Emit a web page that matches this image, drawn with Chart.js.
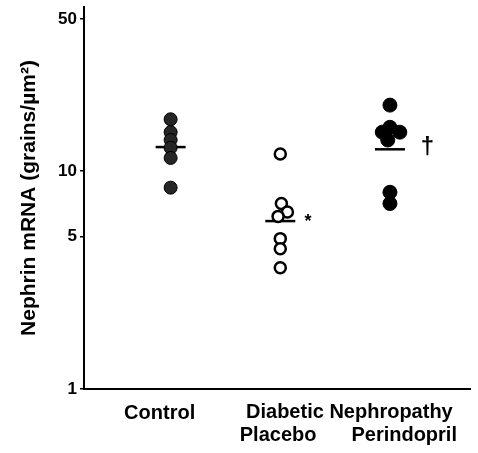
<!DOCTYPE html>
<html>
<head>
<meta charset="utf-8">
<script src="https://cdn.jsdelivr.net/npm/chart.js@4"></script>
<style>
html,body{margin:0;padding:0;background:#fff;}
#wrap{width:478px;height:453px;position:relative;}
</style>
</head>
<body>
<div id="wrap"><canvas id="c" width="478" height="453"></canvas></div>
<script>
// ---- data ----
const categories = ['Control', 'Placebo', 'Perindopril'];
const groupLabel = 'Diabetic Nephropathy';
const yTickValues = [1, 5, 10, 50];
const controlValues = [17.3, 15.1, 13.9, 12.8, 11.5, 8.4];
const controlJitter = [0, 0, 0, 0, 0, 0];
const placeboValues = [12.0, 7.1, 6.5, 6.2, 4.9, 4.4, 3.6];
const placeboJitter = [0, 0.01, 0.065, -0.02, 0, 0, 0];
const perindoprilValues = [20.1, 15.9, 15.1, 15.1, 13.9, 8.0, 7.1];
const perindoprilJitter = [0, 0, -0.07, 0.09, -0.02, 0, 0];
const meanValues = [12.9, 5.9, 12.6];
const significance = ['', '*', '\u2020'];

// label placement (style, not data)
const xLabelShift = [-0.1, -0.02, 0.13];
const groupLabelAt = 2.63;

const FONT = '"Liberation Sans", Arial, sans-serif';

function pts(catIndex, values, jitter) {
  return values.map((v, i) => ({ x: catIndex + 1 + jitter[i], y: v }));
}

const meanPts = meanValues.map((v, i) => ({ x: i + 1, y: v }));

const annotations = {
  id: 'annotations',
  afterDatasetsDraw(chart) {
    const ctx = chart.ctx;
    const xs = chart.scales.x, ys = chart.scales.y;
    ctx.save();
    ctx.fillStyle = '#000';
    significance.forEach((s, i) => {
      if (!s) return;
      const big = s === '\u2020';
      ctx.font = 'bold ' + (big ? 24 : 18) + 'px ' + FONT;
      ctx.textAlign = 'left';
      ctx.textBaseline = 'middle';
      const px = xs.getPixelForValue(i + 1 + (big ? 0.28 : 0.22));
      const py = ys.getPixelForValue(meanValues[i]) + (big ? -2 : 1);
      ctx.fillText(s, px, py);
    });
    ctx.font = 'bold 20px ' + FONT;
    ctx.textAlign = 'center';
    ctx.textBaseline = 'middle';
    ctx.fillText(groupLabel, xs.getPixelForValue(groupLabelAt), xs.top + 23);
    ctx.restore();
  }
};

const chart = new Chart(document.getElementById('c'), {
  type: 'scatter',
  data: {
    datasets: [
      {
        label: categories[0],
        data: pts(0, controlValues, controlJitter),
        pointRadius: 6.5,
        pointBackgroundColor: '#262626',
        pointBorderColor: '#000',
        pointBorderWidth: 1
      },
      {
        label: categories[1],
        data: pts(1, placeboValues, placeboJitter),
        pointRadius: 5.5,
        pointBackgroundColor: '#fff',
        pointBorderColor: '#000',
        pointBorderWidth: 2.5
      },
      {
        label: categories[2],
        data: pts(2, perindoprilValues, perindoprilJitter),
        pointRadius: 7,
        pointBackgroundColor: '#000',
        pointBorderColor: '#000',
        pointBorderWidth: 1
      },
      {
        label: 'mean',
        data: meanPts,
        pointStyle: 'line',
        pointRadius: 15,
        pointBorderColor: '#000',
        pointBorderWidth: 2.5
      }
    ]
  },
  options: {
    responsive: false,
    animation: false,
    events: [],
    layout: { padding: { top: 7, right: 8, left: 0, bottom: 0 } },
    plugins: { legend: { display: false }, tooltip: { enabled: false } },
    scales: {
      x: {
        type: 'linear',
        min: 0.21,
        max: 3.73,
        afterBuildTicks(scale) {
          scale.ticks = categories.map((c, i) => ({ value: i + 1 + xLabelShift[i] }));
        },
        afterFit(scale) { scale.height = 64; scale.paddingLeft = 0; scale.paddingRight = 0; },
        ticks: {
          padding: 13,
          color: '#000',
          font: { family: FONT, size: 20, weight: 'bold', lineHeight: 1.12 },
          maxRotation: 0,
          autoSkip: false,
          callback(v, idx) {
            return idx === 0 ? categories[0] : ['', categories[idx]];
          }
        },
        grid: { display: false, drawTicks: false },
        border: { display: true, color: '#000', width: 2 }
      },
      y: {
        type: 'logarithmic',
        min: 1,
        max: 56.7,
        afterBuildTicks(scale) {
          scale.ticks = yTickValues.map(v => ({ value: v }));
        },
        afterFit(scale) { scale.width = 84; scale.paddingTop = 0; scale.paddingBottom = 0; },
        ticks: {
          padding: 3,
          color: '#000',
          font: { family: FONT, size: 17, weight: 'bold' },
          callback(v) { return String(v); }
        },
        grid: { drawOnChartArea: false, drawTicks: true, tickLength: 4, color: '#000', lineWidth: 1.5 },
        border: { display: true, color: '#000', width: 2 },
        title: {
          display: true,
          text: 'Nephrin mRNA (grains/\u00B5m\u00B2)',
          color: '#000',
          font: { family: FONT, size: 21, weight: 'bold' },
          padding: { top: 17, bottom: 0 }
        }
      }
    }
  },
  plugins: [annotations]
});

// markers must not push the plot area inward (the layout padding already fixes it)
chart.data.datasets.forEach((d, i) => {
  chart.getDatasetMeta(i).controller.getMaxOverflow = () => 0;
});
chart.update();
</script>
</body>
</html>
